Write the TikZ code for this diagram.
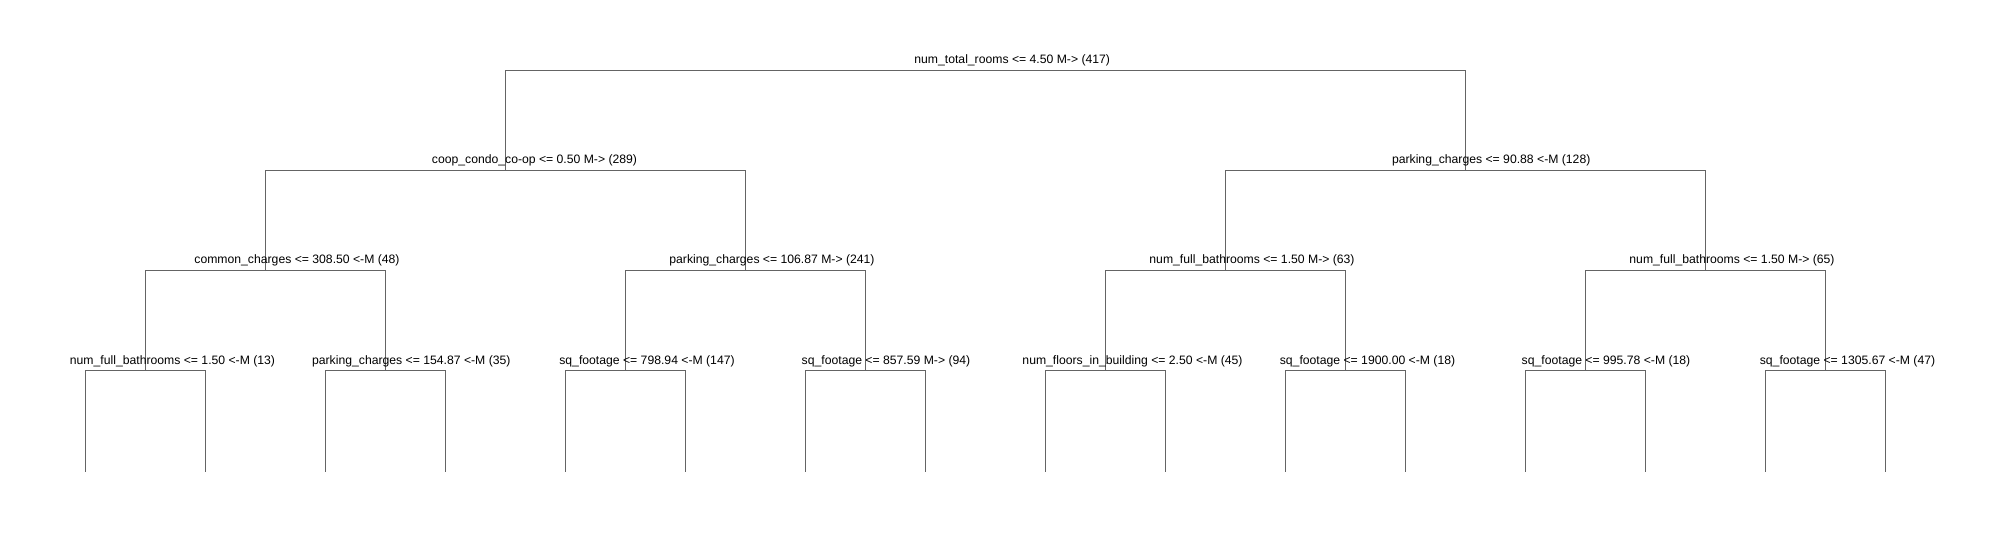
\documentclass[tikz,border=0pt]{standalone}
\usepackage{fontspec}
\setmainfont{Liberation Sans}
\definecolor{edgegray}{RGB}{100,100,100}
\begin{document}
\begin{tikzpicture}[x=1pt,y=-1pt,
  lab/.style={anchor=base,inner sep=0pt,font=\fontsize{12.2}{14}\selectfont,text=black},
  edge/.style={draw=edgegray,line width=1pt}]
\useasboundingbox (0,0) rectangle (2003,540);
% tree points
\coordinate (r) at (985.3,70.3);
\coordinate (a) at (505.3,170.3);
\coordinate (b) at (1465.3,170.3);
\coordinate (aa) at (265.3,270.3);
\coordinate (ab) at (745.3,270.3);
\coordinate (ba) at (1225.3,270.3);
\coordinate (bb) at (1705.3,270.3);
\foreach \n/\x in {d1/145.3,d2/385.3,d3/625.3,d4/865.3,d5/1105.3,d6/1345.3,d7/1585.3,d8/1825.3}{
  \coordinate (\n) at (\x,370.3);
  \coordinate (\n l) at (\x-60,471.5);
  \coordinate (\n r) at (\x+60,471.5);
}
% connectors
\draw[edge] (a) |- (r) -| (b);
\draw[edge] (aa) |- (a) -| (ab);
\draw[edge] (ba) |- (b) -| (bb);
\draw[edge] (d1) |- (aa) -| (d2);
\draw[edge] (d3) |- (ab) -| (d4);
\draw[edge] (d5) |- (ba) -| (d6);
\draw[edge] (d7) |- (bb) -| (d8);
\foreach \n in {d1,d2,d3,d4,d5,d6,d7,d8}{
  \draw[edge] (\n l) |- (\n) -| (\n r);
}
% labels
\node[lab] (lr) at (1012.2,64) {num\_total\_rooms <= 4.50 M-> (417)};
\node[lab] (la) at (534.5,164) {coop\_condo\_co-op <= 0.50 M-> (289)};
\node[lab] (lb) at (1491.2,164) {parking\_charges <= 90.88 <-M (128)};
\node[lab] (laa) at (297,264) {common\_charges <= 308.50 <-M (48)};
\node[lab] (lab) at (772,264) {parking\_charges <= 106.87 M-> (241)};
\node[lab] (lba) at (1252,264) {num\_full\_bathrooms <= 1.50 M-> (63)};
\node[lab] (lbb) at (1732,264) {num\_full\_bathrooms <= 1.50 M-> (65)};
\node[lab] (ld1) at (172.5,364) {num\_full\_bathrooms <= 1.50 <-M (13)};
\node[lab] (ld2) at (411.3,364) {parking\_charges <= 154.87 <-M (35)};
\node[lab] (ld3) at (647,364) {sq\_footage <= 798.94 <-M (147)};
\node[lab] (ld4) at (886,364) {sq\_footage <= 857.59 M-> (94)};
\node[lab] (ld5) at (1132.5,364) {num\_floors\_in\_building <= 2.50 <-M (45)};
\node[lab] (ld6) at (1367.5,364) {sq\_footage <= 1900.00 <-M (18)};
\node[lab] (ld7) at (1606,364) {sq\_footage <= 995.78 <-M (18)};
\node[lab] (ld8) at (1847.5,364) {sq\_footage <= 1305.67 <-M (47)};
\end{tikzpicture}
\end{document}
